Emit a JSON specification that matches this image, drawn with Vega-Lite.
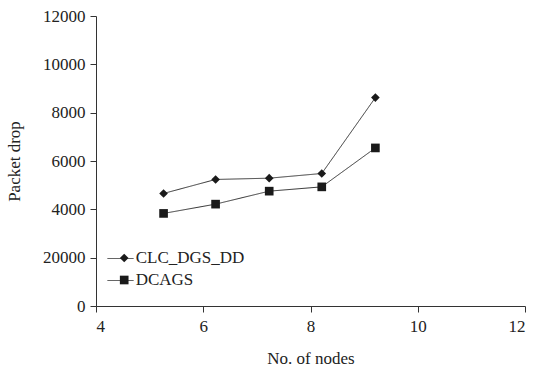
{
  "$schema": "https://vega.github.io/schema/vega-lite/v6.json",
  "width": 429,
  "height": 290,
  "autosize": {"type": "none"},
  "padding": {"left": 96, "top": 16, "right": 9, "bottom": 66},
  "background": "white",
  "config": {
    "view": {"stroke": null},
    "font": "Liberation Serif",
    "axis": {
      "grid": false,
      "domainColor": "#333",
      "tickColor": "#333",
      "tickSize": 6,
      "labelColor": "#222",
      "titleColor": "#222",
      "labelFont": "Liberation Serif",
      "titleFont": "Liberation Serif",
      "titleFontWeight": "normal",
      "labelFontSize": 17,
      "titleFontSize": 17
    }
  },
  "data": {
    "values": [
      {"nodes": 5.26, "drop": 4657, "series": "CLC_DGS_DD"},
      {"nodes": 6.23, "drop": 5236, "series": "CLC_DGS_DD"},
      {"nodes": 7.23, "drop": 5289, "series": "CLC_DGS_DD"},
      {"nodes": 8.21, "drop": 5483, "series": "CLC_DGS_DD"},
      {"nodes": 9.21, "drop": 8624, "series": "CLC_DGS_DD"},
      {"nodes": 5.26, "drop": 3831, "series": "DCAGS"},
      {"nodes": 6.23, "drop": 4215, "series": "DCAGS"},
      {"nodes": 7.23, "drop": 4752, "series": "DCAGS"},
      {"nodes": 8.21, "drop": 4930, "series": "DCAGS"},
      {"nodes": 9.21, "drop": 6541, "series": "DCAGS"}
    ]
  },
  "encoding": {
    "x": {
      "field": "nodes",
      "type": "quantitative",
      "scale": {"domain": [4, 12], "nice": false, "zero": false},
      "axis": {"values": [4, 6, 8, 10, 12], "title": "No. of nodes", "labelPadding": 6, "titlePadding": 16}
    },
    "y": {
      "field": "drop",
      "type": "quantitative",
      "scale": {"domain": [0, 12000], "nice": false},
      "axis": {
        "values": [0, 2000, 4000, 6000, 8000, 10000, 12000],
        "labelExpr": "datum.value === 2000 ? '20000' : format(datum.value, 'd')",
        "title": "Packet drop",
        "labelPadding": 5,
        "titlePadding": 19
      }
    }
  },
  "layer": [
    {
      "mark": {"type": "line", "color": "#333", "strokeWidth": 1},
      "encoding": {
        "strokeDash": {
          "field": "series",
          "type": "nominal",
          "scale": {"range": [[1, 0], [1, 0]]},
          "legend": {
            "title": null,
            "orient": "none",
            "legendX": 11,
            "legendY": 229,
            "symbolType": "stroke",
            "symbolSize": 676,
            "symbolStrokeColor": "#333",
            "symbolStrokeWidth": 1,
            "labelExpr": "''",
            "labelFontSize": 17,
            "labelOffset": 0,
            "rowPadding": -5
          }
        }
      }
    },
    {
      "mark": {"type": "point", "filled": true, "size": 75, "color": "#1a1a1a", "opacity": 1},
      "encoding": {
        "shape": {
          "field": "series",
          "type": "nominal",
          "scale": {"domain": ["CLC_DGS_DD", "DCAGS"], "range": ["diamond", "square"]},
          "legend": {
            "title": null,
            "orient": "none",
            "legendX": 19.7,
            "legendY": 233.5,
            "symbolSize": 75,
            "symbolFillColor": "#1a1a1a",
            "symbolOpacity": 1,
            "labelFont": "Liberation Serif",
            "labelFontSize": 17,
            "labelColor": "#222",
            "labelOffset": 3,
            "rowPadding": 4
          }
        }
      }
    }
  ]
}
